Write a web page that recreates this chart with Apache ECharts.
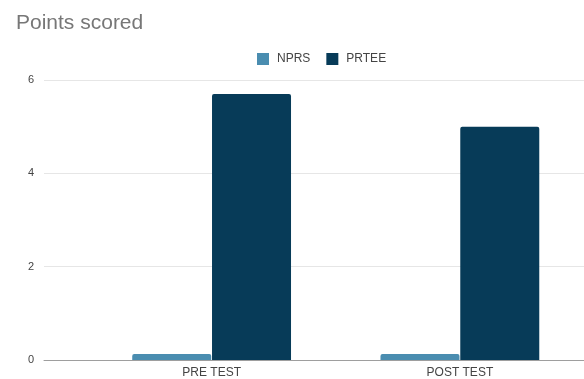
<!DOCTYPE html>
<html>
<head>
<meta charset="utf-8">
<script src="https://cdn.jsdelivr.net/npm/echarts@6/dist/echarts.min.js"></script>
<style>
  html, body { margin: 0; padding: 0; background: #fff; }
  #chart { width: 584px; height: 379px; }
</style>
</head>
<body>
<div id="chart"></div>
<script>
// Chart data
const categories = ['PRE TEST', 'POST TEST'];
const nprs = [0.13, 0.13];
const prtee = [5.7, 5.0];
const yTicks = { min: 0, max: 6, interval: 2 };

const chart = echarts.init(document.getElementById('chart'));
const textColor = '#444';
const font = '"Liberation Sans", Arial, sans-serif';

chart.setOption({
  animation: false,
  title: {
    text: 'Points scored',
    left: 11,
    top: 8,
    textStyle: { fontFamily: font, fontSize: 21, fontWeight: 'normal', color: '#777' }
  },
  legend: {
    top: 48,
    left: 252,
    itemWidth: 12,
    itemHeight: 12,
    itemGap: 16,
    icon: 'rect',
    textStyle: { fontFamily: font, fontSize: 12, color: textColor, padding: [0, 0, 0, 3] },
    data: ['NPRS', 'PRTEE']
  },
  grid: [
    // background grid: gridlines and baseline across the full plot width
    { left: 44, right: -5, top: 80, bottom: 19 },
    // bar grid: category bands
    { left: 87.5, right: -4.5, top: 80, bottom: 19 }
  ],
  xAxis: [
    {
      gridIndex: 0, type: 'category', data: [''],
      axisLine: { show: true, lineStyle: { color: '#9e9e9e', width: 1 } },
      axisTick: { show: false }, axisLabel: { show: false }, splitLine: { show: false }
    },
    {
      gridIndex: 1, type: 'category', data: categories,
      axisLine: { show: false }, axisTick: { show: false },
      axisLabel: { fontFamily: font, fontSize: 12, color: textColor, margin: 7 }
    }
  ],
  yAxis: [
    {
      gridIndex: 0, type: 'value', min: yTicks.min, max: yTicks.max, interval: yTicks.interval,
      axisLine: { show: false }, axisTick: { show: false },
      axisLabel: { fontFamily: font, fontSize: 11, color: textColor, margin: 10 },
      splitLine: { lineStyle: { color: '#e6e6e6', width: 1 } }
    },
    {
      gridIndex: 1, type: 'value', min: yTicks.min, max: yTicks.max, interval: yTicks.interval,
      show: false, splitLine: { show: false }
    }
  ],
  series: [
    {
      name: 'NPRS', type: 'bar', xAxisIndex: 1, yAxisIndex: 1,
      data: nprs, barWidth: 79, barGap: '1%',
      itemStyle: { color: '#4a8db0', borderRadius: [2, 2, 0, 0] }
    },
    {
      name: 'PRTEE', type: 'bar', xAxisIndex: 1, yAxisIndex: 1,
      data: prtee, barWidth: 79, barGap: '1%',
      itemStyle: { color: '#073b58', borderRadius: [2, 2, 0, 0] }
    }
  ]
});
</script>
</body>
</html>
